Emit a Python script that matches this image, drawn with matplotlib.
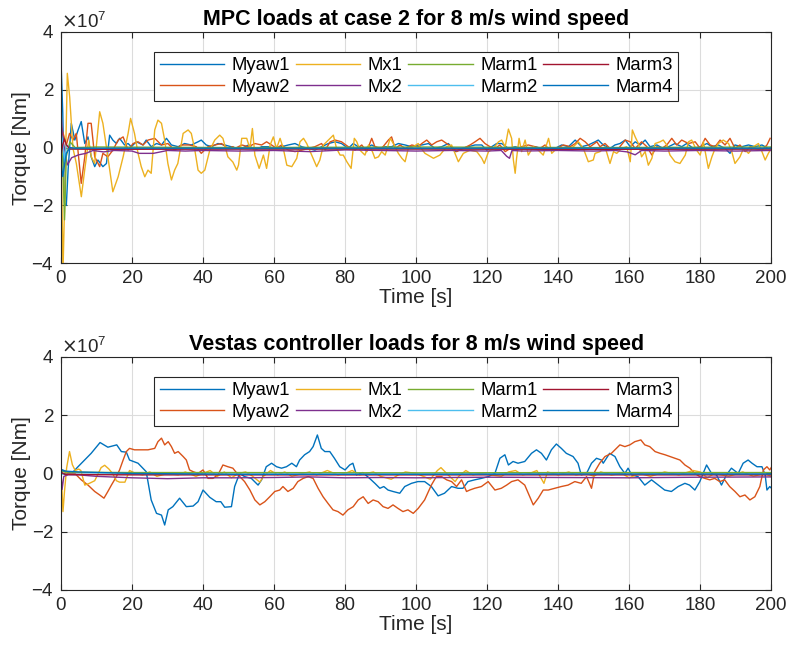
import matplotlib
matplotlib.use("Agg")
import matplotlib.pyplot as plt
import numpy as np
from matplotlib.ticker import ScalarFormatter

plt.rcParams['font.family'] = ['Liberation Sans', 'DejaVu Sans']

# all torque values in units of 1e7 Nm
SCALE = 1e7

# ---------------- MPC (top) ----------------
mpc_t_myaw1 = [0, 0.5, 1.0, 1.5, 2.0, 2.9, 3.9, 4.8, 5.7, 6.7, 7.6, 8.5, 9.5, 10.4, 11.8, 12.8, 13.7, 14.6,
               15.6, 16.5, 17.9, 18.9, 19.8, 21.2, 23.1, 24.0, 25.4, 26.9, 28.3, 29.7, 31.1, 33.0, 34.8, 36.7,
               38.6, 39.5, 40.9, 42.4, 44.2, 46.1, 47.9, 49.9, 50.9, 52.8, 54.6, 56.5, 58.4, 60.3, 62.1, 64.0,
               65.9, 67.8, 69.7, 71.5, 73.4, 75.3, 77.2, 79.0, 80.9, 82.3, 83.7, 85.6, 87.5, 89.4, 91.3, 93.1,
               95.0, 96.9, 98.8, 100.6, 101.6, 103.5, 105.3, 107.2, 109.1, 111.0, 112.8, 114.7, 116.6, 118.5,
               119.9, 121.3, 122.7, 124.1, 126.0, 127.9, 129.7, 131.6, 133.5, 135.4, 137.3, 139.1, 141.0, 142.9,
               144.8, 146.6, 148.5, 150.4, 151.3, 152.7, 154.6, 156.0, 157.4, 158.9, 160.3, 161.7, 163.1, 164.5,
               165.9, 167.8, 169.6, 171.1, 172.9, 174.8, 176.2, 178.1, 180.0, 181.9, 183.3, 185.1, 187.0, 188.4,
               189.8, 191.7, 193.6, 195.5, 197.4, 199.2, 200.0]
mpc_myaw1 = [3.0, 1.2, -1.93, -2.0, -0.78, 0.84, 0.26, 0.6, 0.9, 0.14, 0.37, -0.32, -0.66, -0.43, -0.66, -0.55,
             0.43, 0.26, 0.14, 0.32, 0.09, 0.14, 0.03, 0.20, 0.09, 0.26, 0.03, 0.14, 0.09, 0.32, 0.09, 0.03, 0.14,
             0.09, 0.20, 0.26, 0.09, 0.03, 0.14, 0.09, 0.03, -0.03, -0.03, 0.09, -0.09, 0.03, 0.03, -0.03, 0.03,
             0.09, 0.14, 0.03, -0.03, -0.09, 0.03, 0.14, 0.20, 0.14, -0.03, 0.14, 0.03, -0.03, 0.09, -0.03, 0.03,
             0.03, 0.14, 0.09, 0.03, 0.09, 0.09, 0.14, -0.03, 0.03, 0.14, -0.14, -0.03, 0.03, 0.09, 0.09, -0.09,
             0.03, 0.14, 0.14, -0.03, 0.03, -0.03, -0.03, 0.03, -0.03, -0.09, -0.03, 0.09, 0.03, 0.26, 0.03, 0.09,
             0.20, 0.26, 0.09, -0.03, 0.09, 0.14, 0.26, 0.03, 0.20, 0.09, 0.26, 0.03, 0.09, -0.03, 0.03, 0.14,
             0.03, 0.14, -0.03, 0.03, 0.14, 0.03, 0.09, -0.03, -0.20, 0.09, 0.03, 0.09, 0.03, 0.09, -0.03, 0.0]

mpc_t_myaw2 = [0, 0.1, 1.5, 2.4, 3.4, 4.3, 5.7, 6.7, 7.6, 8.5, 9.5, 10.9, 11.8, 13.2, 14.6, 16.1, 17.5, 18.9,
               20.3, 21.7, 23.1, 24.5, 26.4, 28.3, 30.1, 32.0, 33.9, 36.2, 38.1, 39.5, 41.4, 43.3, 45.2, 47.0,
               48.4, 49.0, 50.9, 52.8, 54.6, 56.5, 57.9, 59.3, 60.7, 62.1, 64.0, 65.9, 67.8, 69.7, 71.5, 73.4,
               74.4, 75.8, 77.2, 79.0, 80.9, 82.8, 84.7, 86.1, 87.5, 88.4, 90.3, 92.2, 93.1, 94.1, 95.5, 96.9,
               98.8, 100.6, 101.6, 103.0, 104.4, 105.8, 107.2, 108.6, 110.0, 111.4, 113.3, 115.2, 116.6, 118.0,
               119.4, 120.8, 122.2, 123.6, 125.1, 126.5, 127.9, 129.7, 131.6, 133.5, 134.9, 136.3, 137.7, 139.6,
               141.5, 143.4, 144.8, 146.2, 147.6, 149.0, 150.9, 151.8, 153.2, 155.1, 157.0, 158.9, 160.3, 161.7,
               163.5, 165.0, 166.4, 167.8, 169.2, 170.6, 172.0, 173.4, 174.8, 176.7, 178.6, 180.0, 181.4, 182.8,
               184.2, 185.6, 187.0, 188.4, 189.8, 191.2, 192.7, 194.1, 195.5, 197.4, 198.8, 199.7]
mpc_myaw2 = [0.3, 0.72, 0.09, 0.49, 0.26, 0.49, -1.24, -0.32, 0.84, 0.84, -0.32, -0.66, -0.20, -0.32, -0.09,
             0.26, 0.37, -0.09, 0.14, 0.20, 0.09, 0.26, 0.32, 0.09, 0.14, -0.09, 0.09, 0.09, 0.03, -0.20, 0.03,
             0.09, 0.14, -0.03, 0.03, -0.03, 0.09, 0.03, 0.14, 0.09, 0.20, 0.09, -0.03, 0.09, -0.09, -0.14, -0.09,
             -0.03, 0.03, 0.14, -0.09, 0.20, 0.26, 0.20, 0.03, -0.09, 0.09, -0.14, 0.32, 0.03, -0.03, 0.26, 0.37,
             -0.03, 0.09, -0.03, 0.09, 0.03, 0.14, 0.26, 0.09, 0.20, 0.26, 0.14, 0.03, -0.14, -0.03, 0.09, 0.20,
             0.32, 0.14, 0.03, -0.03, 0.09, -0.14, -0.03, -0.09, 0.03, 0.09, 0.03, -0.03, 0.09, -0.09, -0.03, 0.09,
             0.03, 0.14, 0.32, 0.20, 0.03, 0.20, 0.03, 0.14, -0.09, -0.03, 0.26, 0.20, -0.03, 0.20, 0.03, -0.26,
             0.03, -0.03, 0.09, 0.32, 0.09, 0.26, 0.14, 0.20, -0.03, 0.32, 0.09, 0.03, 0.26, 0.09, 0.32, -0.03,
             0.09, -0.14, 0.03, -0.03, -0.09, 0.09, 0.32]

mpc_t_mx1 = [0, 0.56, 1.03, 1.78, 2.44, 3.38, 4.32, 5.73, 6.67, 7.79, 8.54, 9.48, 10.9, 11.8, 13.2, 14.6, 16.1,
             17.5, 18.9, 19.6, 20.7, 21.7, 22.6, 23.6, 24.5, 25.4, 26.4, 27.3, 28.3, 29.2, 30.1, 31.1, 32.0, 32.9,
             34.4, 35.8, 36.7, 37.7, 38.6, 39.5, 40.5, 41.9, 43.3, 44.7, 45.6, 47.0, 48.4, 49.5, 50.0, 50.9, 52.3,
             53.2, 53.9, 54.6, 55.8, 57.0, 57.9, 58.9, 59.8, 60.7, 61.7, 62.6, 63.6, 65.0, 66.4, 67.3, 68.3, 69.2,
             70.6, 72.0, 72.9, 73.9, 75.3, 76.7, 77.6, 78.6, 79.5, 80.5, 81.7, 82.6, 83.3, 84.2, 85.6, 86.6, 87.7,
             88.4, 89.4, 90.3, 91.3, 92.7, 93.6, 95.0, 96.0, 96.9, 97.8, 99.2, 100.6, 101.1, 102.5, 104.9, 106.7,
             108.6, 110.0, 111.9, 113.3, 115.2, 117.1, 118.5, 119.2, 120.4, 121.8, 123.2, 124.1, 125.1, 126.0,
             126.9, 127.4, 127.9, 128.3, 129.0, 129.7, 130.7, 131.6, 133.0, 134.4, 135.8, 137.3, 138.2, 139.6,
             141.0, 142.9, 144.3, 145.7, 147.1, 148.5, 149.9, 150.4, 151.8, 153.2, 154.6, 155.6, 156.5, 157.9,
             159.3, 160.3, 160.9, 161.7, 162.6, 163.5, 164.5, 165.4, 166.4, 167.3, 168.7, 169.6, 170.6, 171.5,
             172.9, 174.3, 175.8, 176.7, 177.6, 179.0, 180.0, 180.9, 182.3, 183.3, 184.2, 185.1, 186.5, 188.0,
             188.9, 189.8, 191.2, 192.2, 193.6, 195.0, 196.4, 197.4, 198.3, 199.2, 200.0]
mpc_mx1 = [0.61, -4.3, -1.93, 2.57, 1.76, -0.03, -0.55, -1.70, -0.78, 0.26, -0.32, -0.55, 1.24, 0.84, -0.32,
           -1.53, -1.01, -0.32, 0.49, 1.01, 0.49, -0.20, -0.66, -1.01, -0.78, -0.89, 0.61, 0.95, 0.84, 0.26, -0.55,
           -1.12, -0.78, -0.55, 0.49, 0.61, 0.49, -0.09, -0.78, -0.89, -0.78, -0.09, 0.26, 0.43, 0.32, -0.32, -0.50,
           -0.78, -0.60, 0.32, 0.32, -0.03, 0.66, -0.26, -0.72, -0.26, -0.72, 0.09, 0.37, -0.03, 0.32, -0.03, -0.61,
           -0.66, -0.37, 0.20, 0.32, 0.14, -0.26, -0.66, -0.43, 0.09, 0.26, 0.43, -0.03, -0.26, -0.26, -0.49, -0.72,
           0.32, 0.20, -0.09, -0.26, 0.09, -0.14, -0.37, -0.32, -0.14, -0.26, 0.32, 0.14, -0.20, -0.37, -0.49, -0.03,
           0.03, 0.14, 0.03, -0.20, -0.37, -0.26, 0.03, 0.09, -0.49, -0.20, -0.09, -0.14, -0.37, -0.55, -0.14, -0.03,
           0.20, 0.26, 0.03, 0.64, 0.32, -0.43, -0.89, -0.37, 0.32, -0.14, 0.26, -0.26, 0.03, -0.09, -0.26, 0.32,
           -0.20, -0.03, -0.03, -0.03, 0.03, 0.20, -0.03, -0.49, -0.43, -0.20, -0.14, 0.03, -0.55, -0.14, -0.20,
           -0.03, 0.03, -0.49, 0.61, 0.37, 0.14, -0.32, -0.14, -0.61, -0.37, 0.14, 0.20, 0.26, 0.09, -0.26, -0.49,
           -0.55, -0.26, 0.20, 0.26, -0.09, -0.26, 0.20, -0.72, -0.32, -0.03, 0.14, 0.26, 0.14, -0.14, -0.55, -0.32,
           -0.03, -0.20, 0.03, 0.14, -0.14, -0.43, -0.20, -0.03]

mpc_t_mx2 = [0, 0.5, 1.8, 3.0, 5.0, 7.0, 9.0, 12.0, 15.0, 20.0, 22.0, 26.0, 30.0, 35.0, 40.0, 50.0, 60.0, 70.0,
             80.0, 90.0, 100.0, 110.0, 120.0, 124.0, 125.5, 126.3, 127.0, 130.0, 140.0, 150.0, 156.0, 159.5,
             161.7, 163.5, 170.0, 180.0, 190.0, 200.0]
mpc_mx2 = [1.2, 0.3, -0.6, -0.35, -0.25, -0.2, -0.1, -0.15, -0.1, -0.12, -0.2, -0.2, -0.1, -0.12, -0.1, -0.12,
           -0.1, -0.14, -0.08, -0.1, -0.12, -0.1, -0.12, -0.1, -0.3, -0.37, -0.1, -0.12, -0.1, -0.12, -0.1, -0.15,
           -0.25, -0.1, -0.12, -0.1, -0.12, -0.1]

mpc_t_marm = [0, 0.5, 1.0, 1.5, 2.5, 4.0, 10.0, 50.0, 100.0, 150.0, 200.0]
mpc_marm1 = [0.3, -0.5, -2.5, -0.3, 0.2, 0.0, 0.02, 0.0, 0.02, 0.0, 0.02]
mpc_marm2 = [0.5, 0.2, -0.5, 0.1, -0.05, -0.05, -0.04, -0.05, -0.04, -0.05, -0.05]
mpc_marm3 = [-0.3, 0.1, 0.3, 0.1, -0.05, -0.05, -0.06, -0.05, -0.05, -0.06, -0.05]
mpc_marm4 = [-0.5, -1.0, -0.6, -0.2, 0.0, -0.02, -0.02, -0.02, -0.02, -0.02, -0.02]

# ---------------- Vestas (bottom) ----------------
ves_t_myaw1 = [0, 3.0, 4.8, 8.5, 11.0, 13.2, 15.7, 17.0, 18.4, 19.3, 21.7, 24.0, 25.4, 26.9, 28.3, 29.2, 30.2,
               31.5, 33.4, 35.3, 37.2, 38.6, 40.0, 41.9, 43.7, 45.0, 46.1, 48.0, 48.9, 50.3, 51.7, 53.6, 55.5, 56.5,
               57.8, 59.3, 60.7, 62.1, 63.5, 65.0, 66.3, 67.2, 68.6, 70.0, 71.0, 72.2, 73.3, 74.3, 75.7, 77.0, 78.5,
               80.0, 81.3, 82.2, 83.2, 85.0, 86.9, 88.4, 89.8, 90.9, 92.1, 93.5, 95.4, 96.8, 98.7, 100.5, 102.4,
               104.3, 106.2, 108.0, 110.0, 111.8, 113.2, 114.6, 116.5, 118.4, 120.3, 122.2, 123.6, 125.0, 126.0,
               127.3, 128.7, 130.6, 132.5, 133.9, 135.3, 136.7, 138.1, 139.5, 140.9, 142.3, 144.2, 145.6, 146.5,
               148.0, 149.4, 150.8, 152.2, 152.7, 154.5, 156.0, 157.4, 158.8, 159.7, 160.7, 162.5, 164.4, 166.3,
               168.2, 170.0, 171.9, 173.8, 175.7, 177.0, 178.5, 179.9, 181.8, 183.2, 184.6, 186.0, 187.4, 188.8,
               190.7, 192.1, 193.5, 194.6, 196.0, 197.4, 198.3, 198.8, 199.6, 200.0]
ves_myaw1 = [0.14, 0.0, 0.23, 0.69, 1.06, 0.90, 0.98, 0.75, 0.73, 0.46, 0.35, 0.06, -0.91, -1.37, -1.43, -1.77,
             -1.25, -1.14, -0.85, -1.14, -1.12, -0.97, -0.57, -0.82, -0.97, -0.97, -1.16, -1.14, -0.45, 0.0, -0.11,
             -0.17, -0.40, -0.22, 0.23, 0.35, 0.23, 0.18, 0.23, 0.35, 0.23, 0.46, 0.64, 0.75, 0.92, 1.32, 0.86, 0.75,
             0.75, 0.52, 0.23, 0.12, 0.29, 0.35, -0.05, 0.03, -0.17, -0.34, -0.51, -0.45, -0.57, -0.62, -0.68, -0.45,
             -0.34, -0.28, -0.28, -0.45, -0.77, -0.68, -0.45, -0.51, -0.51, -0.28, -0.22, -0.17, -0.11, 0.0, 0.52,
             0.64, 0.29, 0.41, 0.35, 0.41, 0.69, 0.81, 0.69, 0.46, 0.81, 1.01, 0.86, 0.69, 0.58, 0.35, -0.05, 0.0,
             0.35, 0.52, 0.46, 0.35, 0.69, 0.58, 0.23, 0.0, 0.18, -0.05, -0.11, -0.40, -0.22, -0.40, -0.57, -0.62,
             -0.45, -0.34, -0.40, -0.57, -0.28, 0.29, 0.0, -0.05, -0.40, -0.05, 0.18, 0.0, 0.35, 0.46, 0.35, 0.23,
             0.23, -0.05, -0.57, -0.45, -0.50]

ves_t_myaw2 = [0, 0.5, 2.0, 3.9, 5.7, 7.6, 9.5, 10.9, 12.1, 13.2, 14.2, 15.6, 16.5, 17.5, 18.4, 19.3, 20.7, 22.6,
               24.5, 26.4, 27.3, 28.3, 29.2, 30.2, 31.1, 32.0, 33.0, 34.4, 35.3, 36.2, 37.2, 38.6, 40.0, 41.4, 42.8,
               44.2, 45.6, 47.0, 48.4, 49.9, 51.7, 53.2, 54.6, 56.0, 57.4, 58.8, 60.2, 61.6, 62.5, 63.9, 65.4, 66.7,
               68.2, 69.6, 71.0, 72.4, 73.8, 75.2, 76.6, 78.0, 79.4, 80.8, 82.3, 83.7, 85.1, 86.5, 87.9, 89.3, 90.7,
               92.1, 93.5, 94.9, 96.3, 97.7, 99.2, 100.6, 102.4, 104.3, 105.7, 107.2, 108.6, 110.0, 111.4, 112.8,
               114.2, 115.1, 116.5, 118.4, 120.3, 122.2, 124.0, 125.5, 126.9, 128.7, 130.6, 132.0, 133.0, 134.4,
               135.8, 137.2, 139.0, 140.9, 142.8, 144.7, 146.5, 148.0, 149.4, 150.3, 151.7, 153.2, 155.0, 156.4,
               157.4, 158.8, 160.2, 161.6, 163.3, 164.4, 165.8, 167.3, 168.7, 170.1, 171.5, 172.9, 174.3, 175.7,
               177.1, 178.5, 179.9, 181.3, 182.7, 184.1, 185.5, 186.9, 188.3, 189.8, 191.2, 192.6, 194.0, 195.4,
               196.8, 197.8, 198.8, 199.6, 200.0]
ves_myaw2 = [0.06, 0.1, 0.0, 0.0, -0.22, -0.40, -0.62, -0.74, -0.85, -0.62, -0.40, -0.11, 0.12, 0.46, 0.75, 0.86,
             0.81, 0.81, 0.81, 0.86, 1.09, 1.21, 0.98, 1.09, 0.92, 0.69, 0.75, 0.58, 0.46, 0.12, 0.06, 0.0, 0.12,
             -0.17, -0.17, -0.05, 0.29, 0.23, 0.18, -0.05, -0.28, -0.57, -0.91, -1.08, -0.97, -0.80, -0.62, -0.57,
             -0.45, -0.62, -0.51, -0.28, -0.17, -0.11, -0.17, -0.51, -0.80, -1.03, -1.25, -1.31, -1.43, -1.25,
             -1.14, -0.91, -0.80, -1.03, -0.91, -0.97, -1.14, -1.20, -1.08, -1.20, -1.31, -1.25, -1.37, -1.20,
             -0.91, -0.40, -0.11, -0.11, -0.22, -0.28, -0.45, -0.22, -0.62, -0.57, -0.51, -0.45, -0.28, -0.57,
             -0.51, -0.40, -0.28, -0.22, -0.40, -0.80, -1.08, -0.85, -0.57, -0.57, -0.51, -0.45, -0.40, -0.28,
             -0.34, -0.11, -0.51, 0.06, 0.35, 0.58, 0.69, 0.86, 0.98, 0.92, 0.98, 1.09, 1.15, 0.98, 0.92, 0.75,
             0.69, 0.64, 0.58, 0.52, 0.46, 0.29, 0.18, 0.0, -0.11, -0.17, -0.22, -0.17, -0.28, -0.22, -0.45, -0.62,
             -0.80, -0.74, -0.91, -0.80, -0.45, 0.12, 0.23, 0.12, 0.20]

ves_t_mx1 = [0, 0.3, 0.56, 1.0, 1.6, 2.4, 3.2, 4.0, 5.0, 5.6, 6.7, 8.0, 9.5, 10.5, 11.3, 12.3, 13.5, 14.5, 15.6,
             16.5, 18.0, 19.3, 21, 23, 25, 27, 30, 33, 35, 38, 40, 42, 44, 46, 48, 50, 52, 54, 56, 57, 59, 61, 63,
             65, 68, 70, 72, 75, 78, 80, 82, 84, 86, 88, 90, 93, 95, 97, 100, 102, 104, 106, 107, 109, 111, 112,
             114, 116, 118, 121, 124, 126, 128, 130, 132, 134, 136, 137, 140, 143, 145, 148, 150, 152, 155, 158,
             160, 163, 166, 170, 174, 178, 180, 182, 184, 188, 192, 195, 198, 200]
ves_mx1 = [0.0, -0.6, -1.31, -0.6, 0.2, 0.75, 0.3, 0.1, 0.15, 0.1, -0.40, -0.34, -0.25, 0.0, 0.2, 0.28, 0.15,
           0.0, -0.25, -0.3, -0.3, 0.1, 0.0, -0.05, 0.05, -0.1, 0.0, -0.05, 0.05, -0.1, 0.0, 0.1, -0.1, 0.05,
           -0.15, 0.0, 0.05, -0.1, -0.3, -0.1, 0.1, -0.05, 0.05, -0.1, 0.0, 0.05, -0.05, 0.1, -0.05, 0.0, 0.1,
           -0.05, 0.0, 0.05, -0.1, -0.2, -0.05, 0.05, 0.0, -0.1, -0.2, 0.1, 0.2, -0.05, -0.28, -0.1, 0.1, -0.05,
           0.0, -0.05, -0.1, 0.05, 0.1, -0.05, 0.0, 0.1, -0.34, 0.05, -0.05, 0.05, -0.05, 0.0, -0.1, 0.05, -0.05,
           0.0, -0.15, 0.0, -0.1, 0.05, -0.05, 0.1, 0.05, -0.15, 0.0, -0.1, 0.05, -0.1, 0.0, -0.1]

ves_t_mx2 = [0, 0.3, 0.8, 2, 5, 10, 20, 30, 40, 50, 60, 70, 80, 90, 100, 120, 140, 160, 180, 200]
ves_mx2 = [0.0, -0.55, -0.1, -0.05, -0.05, -0.1, -0.15, -0.18, -0.15, -0.15, -0.14, -0.12, -0.15, -0.14,
           -0.15, -0.13, -0.14, -0.15, -0.13, -0.12]

ves_t_marm = [0, 1, 5, 20, 50, 100, 150, 200]
ves_marm1 = [0.08, 0.05, 0.04, 0.03, 0.03, 0.02, 0.03, 0.03]
ves_marm2 = [-0.02, -0.03, -0.03, -0.03, -0.03, -0.03, -0.03, -0.03]
ves_marm3 = [0.05, -0.03, -0.04, -0.05, -0.05, -0.05, -0.05, -0.05]
ves_marm4 = [0.12, 0.08, 0.05, 0.0, -0.03, -0.03, -0.02, -0.02]

labels = ['Myaw1', 'Myaw2', 'Mx1', 'Mx2', 'Marm1', 'Marm2', 'Marm3', 'Marm4']
colors = ['#0072BD', '#D95319', '#EDB120', '#7E2F8E', '#77AC30', '#4DBEEE', '#A2142F', '#0072BD']

panels = [
    ("MPC loads at case 2 for 8 m/s wind speed",
     [(mpc_t_myaw1, mpc_myaw1), (mpc_t_myaw2, mpc_myaw2), (mpc_t_mx1, mpc_mx1), (mpc_t_mx2, mpc_mx2),
      (mpc_t_marm, mpc_marm1), (mpc_t_marm, mpc_marm2), (mpc_t_marm, mpc_marm3), (mpc_t_marm, mpc_marm4)]),
    ("Vestas controller loads for 8 m/s wind speed",
     [(ves_t_myaw1, ves_myaw1), (ves_t_myaw2, ves_myaw2), (ves_t_mx1, ves_mx1), (ves_t_mx2, ves_mx2),
      (ves_t_marm, ves_marm1), (ves_t_marm, ves_marm2), (ves_t_marm, ves_marm3), (ves_t_marm, ves_marm4)]),
]

fig = plt.figure(figsize=(7.9, 6.53), dpi=100)
axes_pos = [[0.0772, 0.597, 0.899, 0.354], [0.0772, 0.0965, 0.899, 0.357]]
txt = '#262626'

for pos, (title, series) in zip(axes_pos, panels):
    ax = fig.add_axes(pos)
    for (t, v), lab, c in zip(series, labels, colors):
        ax.plot(t, np.array(v) * SCALE, color=c, lw=1.0, label=lab)
    ax.set_xlim(0, 200)
    ax.set_ylim(-4e7, 4e7)
    ax.set_xticks(np.arange(0, 201, 20))
    ax.set_yticks(np.arange(-4e7, 4.1e7, 2e7))
    fmt = ScalarFormatter(useMathText=True)
    fmt.set_powerlimits((0, 0))
    ax.yaxis.set_major_formatter(fmt)
    ax.yaxis.get_offset_text().set_fontsize(13.5)
    ax.yaxis.get_offset_text().set_color('#555555')
    ax.grid(True, color='#dcdcdc', lw=0.8)
    ax.tick_params(direction='in', top=True, right=True, labelsize=13.5, colors=txt, length=4, pad=5)
    for s in ax.spines.values():
        s.set_color(txt)
        s.set_linewidth(0.8)
    ax.set_xlabel('Time [s]', fontsize=15, color=txt, labelpad=1)
    ax.set_ylabel('Torque [Nm]', fontsize=15, color=txt, labelpad=0)
    ax.set_title(title, fontsize=15.5, fontweight='bold', pad=5)
    leg = ax.legend(ncol=4, loc='upper center', bbox_to_anchor=(0.5, 0.955), fontsize=13.3,
                    handlelength=3.5, columnspacing=0.3, handletextpad=0.4, borderpad=0.3,
                    labelspacing=0.25, fancybox=False, framealpha=1, edgecolor=txt)
    leg.get_frame().set_linewidth(0.8)

fig.savefig('out.png', dpi=100)
